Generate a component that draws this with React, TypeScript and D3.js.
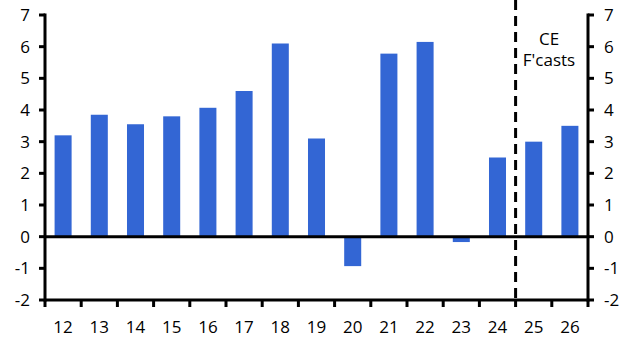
import React from "react";
import * as d3 from "d3";

const categories = ["12","13","14","15","16","17","18","19","20","21","22","23","24","25","26"];
const values = [3.2, 3.85, 3.55, 3.8, 4.07, 4.6, 6.1, 3.1, -0.93, 5.78, 6.15, -0.17, 2.5, 3.0, 3.5];
const yTicks = [-2, -1, 0, 1, 2, 3, 4, 5, 6, 7];
const forecastStart = "25";
const annotation = ["CE", "F'casts"];

const W = 630, H = 354;
const left = 45, right = 588, top = 15, bottom = 300;
const font = "'Open Sans', 'Noto Sans', sans-serif";
const fs = 17;

export default function App() {
  const x = d3.scaleBand<string>().domain(categories).range([left, right]).paddingInner(0.53).paddingOuter(0.265);
  const xb = d3.scaleBand<string>().domain(categories).range([left, right]);
  const y = d3.scaleLinear().domain([-2, 7]).range([bottom, top]);
  const dashX = xb(forecastStart)!;
  const blue = "#3366d4";
  return (
    <svg width={W} height={H} style={{ position: "absolute", left: 0, top: 0, background: "#fff" }}>
      {values.map((v, i) => (
        <rect key={i} x={x(categories[i])} width={x.bandwidth()} y={y(Math.max(0, v))}
          height={Math.abs(y(v) - y(0))} fill={blue} />
      ))}
      <line x1={left} x2={right} y1={y(0)} y2={y(0)} stroke="#000" strokeWidth={3} />
      <line x1={dashX} x2={dashX} y1={0} y2={bottom} stroke="#000" strokeWidth={3} strokeDasharray="10,6" />
      <line x1={left} x2={left} y1={top - 1.5} y2={bottom + 1.5} stroke="#000" strokeWidth={3} />
      <line x1={right} x2={right} y1={top - 1.5} y2={bottom + 1.5} stroke="#000" strokeWidth={3} />
      <line x1={left} x2={right} y1={bottom} y2={bottom} stroke="#000" strokeWidth={3} />
      {yTicks.map(t => (
        <g key={t}>
          <line x1={left - 6} x2={left} y1={y(t)} y2={y(t)} stroke="#000" strokeWidth={3} />
          <line x1={right} x2={right + 6} y1={y(t)} y2={y(t)} stroke="#000" strokeWidth={3} />
          <text x={30} y={y(t)} dy="0.35em" textAnchor="end" fontFamily={font} fontSize={fs} fill="#000">{t}</text>
          <text x={604} y={y(t)} dy="0.35em" textAnchor="start" fontFamily={font} fontSize={fs} fill="#000">{t}</text>
        </g>
      ))}
      {categories.map((c) => (
        <g key={c}>
          <line x1={xb(c)!} x2={xb(c)!} y1={bottom} y2={bottom + 7} stroke="#000" strokeWidth={3} />
          <text x={xb(c)! + xb.bandwidth() / 2} y={333} textAnchor="middle" fontFamily={font} fontSize={fs} fill="#000">{c}</text>
        </g>
      ))}
      <line x1={right} x2={right} y1={bottom} y2={bottom + 7} stroke="#000" strokeWidth={3} />
      {annotation.map((a, i) => (
        <text key={a} x={549} y={45 + i * 21} textAnchor="middle" fontFamily={font} fontSize={fs} fill="#000">{a}</text>
      ))}
    </svg>
  );
}
